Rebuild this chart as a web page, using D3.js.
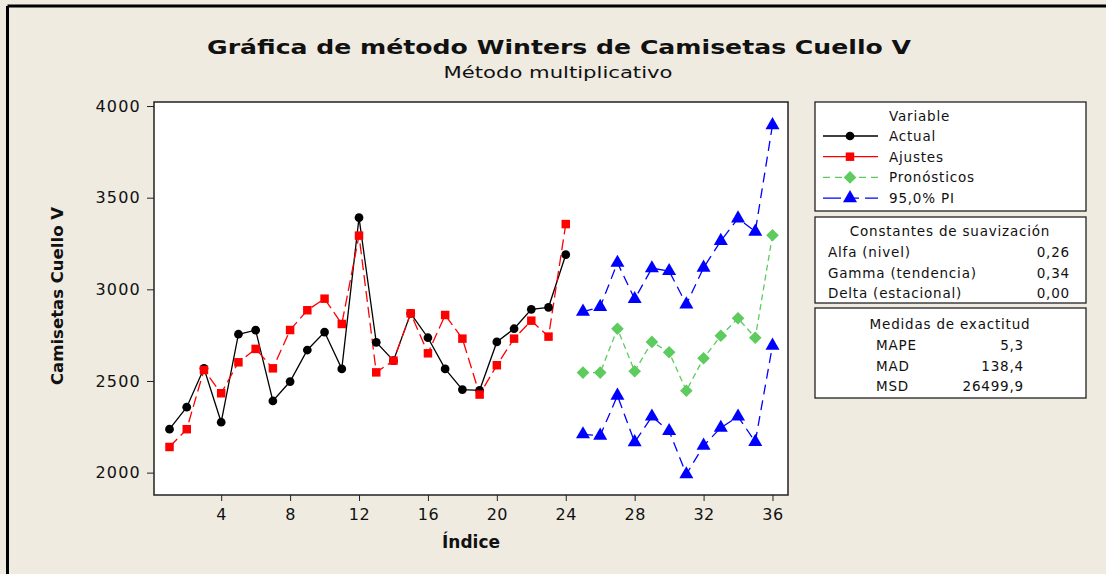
<!DOCTYPE html>
<html><head><meta charset="utf-8">
<script src="https://cdn.jsdelivr.net/npm/d3@7"></script>
<style>body{margin:0;background:#efebe1;}svg{display:block;}</style>
</head><body>
<script>
const indexActual = d3.range(1, 25);
const indexForecast = d3.range(25, 37);
const actual = [2237,2357,2569,2275,2755,2777,2391,2497,2669,2767,2566,3391,2711,2611,2869,2736,2566,2453,2449,2713,2785,2891,2902,3189];
const ajustes = [2140,2237,2560,2433,2602,2675,2569,2778,2886,2949,2811,3293,2547,2611,2869,2651,2860,2731,2426,2586,2731,2829,2742,3356];
const pronosticos = [2546,2546,2785,2553,2713,2657,2447,2624,2747,2842,2736,3295];
const piUpper = [2878,2904,3145,2947,3115,3100,2918,3118,3264,3387,3315,3896];
const piLower = [2209,2202,2420,2166,2306,2227,1991,2147,2245,2306,2168,2693];
const xTicks = [4,8,12,16,20,24,28,32,36];
const yTicks = [2000,2500,3000,3500,4000];
const legendNames = ["Actual","Ajustes","Pronósticos","95,0% PI"];
const constLabels = ["Alfa (nivel)","Gamma (tendencia)","Delta (estacional)"];
const constValues = ["0,26","0,34","0,00"];
const accLabels = ["MAPE","MAD","MSD"];
const accValues = ["5,3","138,4","26499,9"];

const W = 1106, H = 574;
const svg = d3.select("body").append("svg").attr("width", W).attr("height", H);
svg.append("rect").attr("width", W).attr("height", H).attr("fill", "#efebe1");
svg.append("line").attr("x1",7.5).attr("x2",W).attr("y1",6).attr("y2",6).attr("stroke","#000").attr("stroke-width",3);
svg.append("line").attr("x1",7.5).attr("x2",7.5).attr("y1",6).attr("y2",H).attr("stroke","#000").attr("stroke-width",3);

const L = 154, R = 788, T = 102, B = 495;
const x = d3.scaleLinear().domain([0.1, 36.9]).range([L, R]);
const y = d3.scaleLinear().domain([1878, 4022]).range([B, T]);

svg.append("rect").attr("x",L).attr("y",T).attr("width",R-L).attr("height",B-T)
  .attr("fill","#fff").attr("stroke","#222").attr("stroke-width",1.5);

const font = "'DejaVu Sans', Verdana, sans-serif";

const yAxis = svg.append("g").attr("transform",`translate(${L},0)`)
  .call(d3.axisLeft(y).tickValues(yTicks).tickSize(7).tickSizeOuter(0).tickPadding(6).tickFormat(d3.format("d")));
yAxis.select(".domain").remove();
yAxis.selectAll("text").attr("font-family",font).attr("font-size",16).attr("fill","#111").attr("letter-spacing","1.2px");
yAxis.selectAll("line").attr("stroke","#222");

const xAxis = svg.append("g").attr("transform",`translate(0,${B})`)
  .call(d3.axisBottom(x).tickValues(xTicks).tickSize(6).tickSizeOuter(0).tickPadding(8).tickFormat(d3.format("d")));
xAxis.select(".domain").remove();
xAxis.selectAll("text").attr("font-family",font).attr("font-size",16).attr("fill","#111").attr("letter-spacing","0.5px");
xAxis.selectAll("line").attr("stroke","#222");

svg.append("text").attr("x",559).attr("y",54).attr("text-anchor","middle")
  .attr("font-family",font).attr("font-weight","bold").attr("font-size",20).attr("fill","#111")
  .attr("textLength",704).attr("lengthAdjust","spacingAndGlyphs")
  .text("Gráfica de método Winters de Camisetas Cuello V");
svg.append("text").attr("x",558).attr("y",78).attr("text-anchor","middle")
  .attr("font-family",font).attr("font-size",15).attr("fill","#111")
  .attr("textLength",229).attr("lengthAdjust","spacingAndGlyphs")
  .text("Método multiplicativo");
svg.append("text").attr("x",471).attr("y",548).attr("text-anchor","middle")
  .attr("font-family",font).attr("font-weight","bold").attr("font-size",17).attr("fill","#111")
  .attr("textLength",58).attr("lengthAdjust","spacingAndGlyphs")
  .text("Índice");
svg.append("text").attr("transform","translate(63,296) rotate(-90)").attr("text-anchor","middle")
  .attr("font-family",font).attr("font-weight","bold").attr("font-size",16).attr("fill","#111")
  .attr("textLength",178).attr("lengthAdjust","spacingAndGlyphs")
  .text("Camisetas Cuello V");

const diamond = { draw(ctx, size){ const r = Math.sqrt(size/2); ctx.moveTo(0,-r); ctx.lineTo(r,0); ctx.lineTo(0,r); ctx.lineTo(-r,0); ctx.closePath(); } };

const series = [
  {xs:indexActual, ys:actual, color:"#000", dash:null, sym:d3.symbolCircle, size:60},
  {xs:indexActual, ys:ajustes, color:"#ff0000", dash:"11,5", sym:d3.symbolSquare, size:72},
  {xs:indexForecast, ys:pronosticos, color:"#5ecb5e", dash:"6,4", sym:diamond, size:80},
  {xs:indexForecast, ys:piUpper, color:"#0000ff", dash:"10,6", sym:d3.symbolTriangle, size:85},
  {xs:indexForecast, ys:piLower, color:"#0000ff", dash:"10,6", sym:d3.symbolTriangle, size:85}
];
const line = d3.line().x(d => x(d[0])).y(d => y(d[1]));
const plot = svg.append("g");
series.forEach(s => {
  const pts = s.xs.map((xi,i) => [xi, s.ys[i]]);
  plot.append("path").attr("d", line(pts)).attr("fill","none").attr("stroke",s.color)
    .attr("stroke-width",1.3).attr("stroke-dasharray",s.dash);
});
series.forEach(s => {
  const pts = s.xs.map((xi,i) => [xi, s.ys[i]]);
  plot.selectAll(null).data(pts).enter().append("path")
    .attr("d", d3.symbol().type(s.sym).size(s.size))
    .attr("transform", d => `translate(${x(d[0])},${y(d[1])})`)
    .attr("fill", s.color);
});

const LX = 815, LW = 271;
function box(y0, h){ svg.append("rect").attr("x",LX).attr("y",y0).attr("width",LW).attr("height",h)
  .attr("fill","#fff").attr("stroke","#222").attr("stroke-width",1.3); }
box(102, 109); box(217, 86); box(308, 90);
const ltxt = (xx, yy, t, anchor) => svg.append("text").attr("x",xx).attr("y",yy)
  .attr("text-anchor",anchor||"start").attr("font-family",font).attr("font-size",13.5)
  .attr("letter-spacing","0.8px").attr("fill","#111").text(t);

ltxt(889, 121, "Variable");
[0,1,2,3].forEach(i => {
  const s = series[i];
  const yy = 136 + i*20.7;
  svg.append("line").attr("x1",823).attr("x2",878).attr("y1",yy).attr("y2",yy)
    .attr("stroke",s.color).attr("stroke-width",1.3)
    .attr("stroke-dasharray", i >= 2 ? (i===2 ? "7,5" : "18,12,6,6") : null);
  svg.append("path").attr("d", d3.symbol().type(s.sym).size(s.size)).attr("transform",`translate(850,${yy})`).attr("fill",s.color);
  ltxt(889, yy+5, legendNames[i]);
});

ltxt(950, 236, "Constantes de suavización", "middle");
constLabels.forEach((t,i) => {
  const yy = 257 + i*20.6;
  ltxt(828, yy, t);
  ltxt(1070, yy, constValues[i], "end");
});
ltxt(950, 329, "Medidas de exactitud", "middle");
accLabels.forEach((t,i) => {
  const yy = 350 + i*20.6;
  ltxt(876, yy, t);
  ltxt(1024, yy, accValues[i], "end");
});
</script>
</body></html>
